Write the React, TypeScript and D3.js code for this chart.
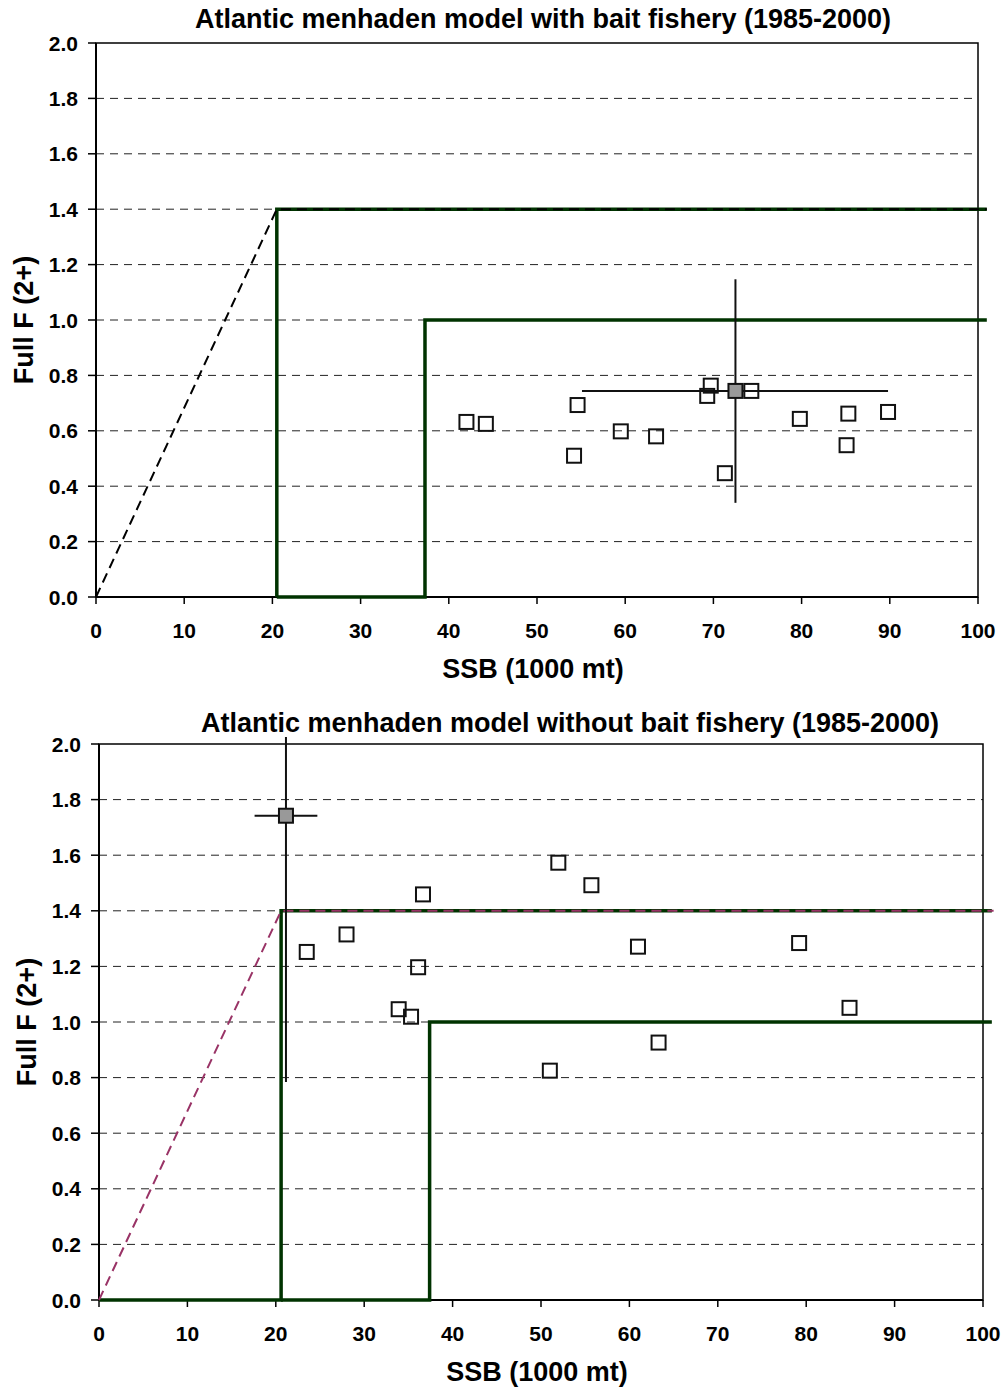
import React from "react";
import * as d3 from "d3";

// axis ticks
const xTicks = [0, 10, 20, 30, 40, 50, 60, 70, 80, 90, 100];
const yTicks = [0, 0.2, 0.4, 0.6, 0.8, 1.0, 1.2, 1.4, 1.6, 1.8, 2.0];

// annual estimates, model with bait fishery
const withSSB = [42.0, 44.2, 54.2, 54.6, 59.5, 63.5, 69.3, 69.7, 71.3, 74.3, 79.8, 85.1, 85.3, 89.8];
const withF = [0.632, 0.625, 0.51, 0.693, 0.598, 0.58, 0.726, 0.763, 0.447, 0.744, 0.643, 0.548, 0.662, 0.668];

// annual estimates, model without bait fishery
const withoutSSB = [23.5, 28.0, 33.9, 35.3, 36.1, 36.65, 51.0, 51.96, 55.7, 60.97, 63.3, 79.2, 84.9];
const withoutF = [1.252, 1.315, 1.046, 1.019, 1.197, 1.459, 0.825, 1.573, 1.492, 1.271, 0.926, 1.284, 1.051];

// current estimate with ranges [ssb, f, ssbLo, ssbHi, fLo, fHi]
const withCurrent = [72.5, 0.744, 55.1, 89.8, 0.34, 1.147];
const withoutCurrent = [21.15, 1.742, 17.6, 24.7, 0.784, 2.025];

// reference point lines
const withThreshX = [20.5, 20.5, 101];
const withThreshY = [0, 1.4, 1.4];
const withTargetX = [20.5, 37.3, 37.3, 101];
const withTargetY = [0, 0, 1.0, 1.0];
const withRampX = [0, 20.5, 101];
const withRampY = [0, 1.4, 1.4];

const withoutThreshX = [0, 20.6, 20.6, 101];
const withoutThreshY = [0, 0, 1.4, 1.4];
const withoutTargetX = [20.6, 37.4, 37.4, 101];
const withoutTargetY = [0, 0, 1.0, 1.0];
const withoutRampX = [0, 20.6, 101.2];
const withoutRampY = [0, 1.4, 1.4];

const FONT = "'Liberation Sans', Arial, sans-serif";
const GREEN = "#003300";

function Panel({ box, title, titleX, titleGap, ssb, f, current, threshX, threshY, targetX, targetY, rampX, rampY, rampColor, rampWidth }) {
  const { left, right, top, bottom } = box;
  const x = d3.scaleLinear().domain([0, 100]).range([left, right]);
  const y = d3.scaleLinear().domain([0, 2]).range([bottom, top]);
  const line = d3.line<[number, number]>().x(d => x(d[0])).y(d => y(d[1]));
  const pts = (xs, ys) => xs.map((v, i) => [v, ys[i]] as [number, number]);
  const [cx, cy, xlo, xhi, ylo, yhi] = current;
  const s = 14;

  return (
    <g fontFamily={FONT} fontWeight="bold">
      <text x={titleX} y={top - titleGap} textAnchor="middle" fontSize={27}>{title}</text>

      {/* gridlines */}
      {yTicks.slice(1, -1).map(t => (
        <line key={t} x1={left} x2={right} y1={y(t)} y2={y(t)} stroke="#222" strokeWidth={1} strokeDasharray="8,6" />
      ))}

      <rect x={left} y={top} width={right - left} height={bottom - top} fill="none" stroke="#000" strokeWidth={1.5} />
      <line x1={left} x2={left} y1={top} y2={bottom} stroke="#000" strokeWidth={2} />
      <line x1={left} x2={right} y1={bottom} y2={bottom} stroke="#000" strokeWidth={2} />

      {/* ticks and labels */}
      {yTicks.map(t => (
        <g key={t}>
          <line x1={left - 8} x2={left} y1={y(t)} y2={y(t)} stroke="#000" strokeWidth={1.5} />
          <text x={left - 18} y={y(t)} dy="0.36em" textAnchor="end" fontSize={21}>{t.toFixed(1)}</text>
        </g>
      ))}
      {xTicks.map(t => (
        <g key={t}>
          <line x1={x(t)} x2={x(t)} y1={bottom} y2={bottom + 7} stroke="#000" strokeWidth={1.5} />
          <text x={x(t)} y={bottom + 41} textAnchor="middle" fontSize={21}>{t}</text>
        </g>
      ))}
      <text x={(left + right) / 2 - 4} y={bottom + 81} textAnchor="middle" fontSize={27}>SSB (1000 mt)</text>
      <text transform={`translate(${left - 63},${(top + bottom) / 2}) rotate(-90)`} textAnchor="middle" fontSize={27}>Full F (2+)</text>

      {/* reference lines */}
      <path d={line(pts(threshX, threshY)) ?? ""} fill="none" stroke={GREEN} strokeWidth={3.5} />
      <path d={line(pts(targetX, targetY)) ?? ""} fill="none" stroke={GREEN} strokeWidth={3.5} />
      <path d={line(pts(rampX, rampY)) ?? ""} fill="none" stroke={rampColor} strokeWidth={rampWidth} strokeDasharray="10,6" />

      {/* error bars */}
      <line x1={x(xlo)} x2={x(xhi)} y1={y(cy)} y2={y(cy)} stroke="#111" strokeWidth={2} />
      <line x1={x(cx)} x2={x(cx)} y1={y(ylo)} y2={y(yhi)} stroke="#111" strokeWidth={2} />

      {ssb.map((v, i) => (
        <rect key={i} x={x(v) - s / 2} y={y(f[i]) - s / 2} width={s} height={s} fill="none" stroke="#111" strokeWidth={2} />
      ))}
      <rect x={x(cx) - s / 2} y={y(cy) - s / 2} width={s} height={s} fill="#999" stroke="#111" strokeWidth={2} />
    </g>
  );
}

export default function App() {
  return (
    <div style={{ position: "absolute", left: 0, top: 0 }}>
      <svg width={1002} height={1390} style={{ display: "block", background: "#fff" }}>
        <Panel
          box={{ left: 96, right: 978, top: 43, bottom: 597 }}
          title="Atlantic menhaden model with bait fishery (1985-2000)"
          titleX={543}
          titleGap={15}
          ssb={withSSB}
          f={withF}
          current={withCurrent}
          threshX={withThreshX}
          threshY={withThreshY}
          targetX={withTargetX}
          targetY={withTargetY}
          rampX={withRampX}
          rampY={withRampY}
          rampColor="#000"
          rampWidth={2}
        />
        <Panel
          box={{ left: 99, right: 983, top: 744, bottom: 1300 }}
          title="Atlantic menhaden model without bait fishery (1985-2000)"
          titleX={570}
          titleGap={12}
          ssb={withoutSSB}
          f={withoutF}
          current={withoutCurrent}
          threshX={withoutThreshX}
          threshY={withoutThreshY}
          targetX={withoutTargetX}
          targetY={withoutTargetY}
          rampX={withoutRampX}
          rampY={withoutRampY}
          rampColor="#993366"
          rampWidth={2}
        />
      </svg>
    </div>
  );
}
